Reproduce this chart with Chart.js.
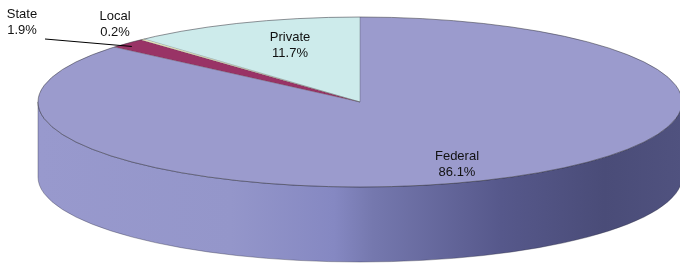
<!DOCTYPE html>
<html>
<head>
<meta charset="utf-8">
<script src="https://cdn.jsdelivr.net/npm/chart.js@4/dist/chart.umd.min.js"></script>
<style>
  html, body { margin: 0; padding: 0; background: #fff; }
  #wrap { width: 680px; height: 263px; }
</style>
</head>
<body>
<div id="wrap"><canvas id="pieChart" width="680" height="263"></canvas></div>
<script>
const categories = ["Federal", "State", "Local", "Private"];
const shares = [86.1, 1.9, 0.2, 11.7];
const sliceColors = ["#9b9bcd", "#993366", "#ffffcc", "#cdebeb"];

// 3D pie geometry (top ellipse and wall depth)
const pieCx = 360;
const pieCy = 102;
const pieRx = 322;
const pieRy = 85;
const pieDepth = 75;

// where a point on the unit pie lands on the tilted ellipse
function project(angle, frac) {
  return {
    x: pieCx + Math.cos(angle) * pieRx * frac,
    y: pieCy + Math.sin(angle) * pieRy * frac,
  };
}

const tiltPlugin = {
  id: "tilt",
  beforeDatasetsDraw(chart) {
    const ctx = chart.ctx;
    const arcs = chart.getDatasetMeta(0).data;

    // side wall: only the front half (angles 0..PI) is visible
    arcs.forEach((arc, i) => {
      let a0 = arc.startAngle;
      let a1 = arc.endAngle;
      // normalise to 0..2PI
      const shift = Math.floor(a0 / (2 * Math.PI)) * 2 * Math.PI;
      a0 -= shift;
      a1 -= shift;
      [[0, Math.PI], [2 * Math.PI, 3 * Math.PI]].forEach(([lo, hi]) => {
        const s = Math.max(a0, lo);
        const e = Math.min(a1, hi);
        if (e <= s) return;
        const grad = ctx.createLinearGradient(pieCx - pieRx, 0, pieCx + pieRx, 0);
        if (i === 0) {
          grad.addColorStop(0, "#9899cd");
          grad.addColorStop(0.3, "#9496ca");
          grad.addColorStop(0.46, "#8588c2");
          grad.addColorStop(0.52, "#7578ae");
          grad.addColorStop(0.72, "#56588b");
          grad.addColorStop(0.88, "#4a4c78");
          grad.addColorStop(1, "#50527f");
        } else {
          grad.addColorStop(0, sliceColors[i]);
          grad.addColorStop(1, "#333333");
        }
        ctx.save();
        ctx.beginPath();
        ctx.ellipse(pieCx, pieCy, pieRx, pieRy, 0, s, e, false);
        ctx.ellipse(pieCx, pieCy + pieDepth, pieRx, pieRy, 0, e, s, true);
        ctx.closePath();
        ctx.fillStyle = grad;
        ctx.fill();
        ctx.strokeStyle = "rgba(40,40,60,0.6)";
        ctx.lineWidth = 0.6;
        ctx.stroke();
        ctx.restore();
      });
    });

    // squash the flat pie into the top ellipse
    const a = arcs[0];
    const r = a.outerRadius;
    ctx.save();
    ctx.translate(pieCx, pieCy);
    ctx.scale(pieRx / r, pieRy / r);
    ctx.translate(-a.x, -a.y);
  },
  afterDatasetsDraw(chart) {
    const ctx = chart.ctx;
    ctx.restore();
    const arcs = chart.getDatasetMeta(0).data;

    // outlines of the top face
    ctx.save();
    ctx.strokeStyle = "rgba(50,50,60,0.75)";
    ctx.lineWidth = 0.7;
    ctx.beginPath();
    ctx.ellipse(pieCx, pieCy, pieRx, pieRy, 0, 0, 2 * Math.PI);
    ctx.stroke();
    ctx.strokeStyle = "rgba(60,60,70,0.45)";
    arcs.forEach((arc) => {
      const p = project(arc.startAngle, 1);
      ctx.beginPath();
      ctx.moveTo(pieCx, pieCy);
      ctx.lineTo(p.x, p.y);
      ctx.stroke();
    });
    ctx.restore();

    // labels
    ctx.save();
    ctx.font = "13px 'Liberation Sans', Arial, sans-serif";
    ctx.fillStyle = "#111";
    ctx.textAlign = "center";
    ctx.textBaseline = "middle";
    const spots = [
      { x: 457, y: 156 },
      { x: 22, y: 14 },
      { x: 115, y: 16 },
      { x: 290, y: 37 },
    ];
    arcs.forEach((arc, i) => {
      const s = spots[i];
      ctx.fillText(categories[i], s.x, s.y);
      ctx.fillText(shares[i].toFixed(1) + "%", s.x, s.y + 16);
    });
    // leader line for State
    const st = arcs[1];
    const tip = project((st.startAngle + st.endAngle) / 2, 0.98);
    ctx.strokeStyle = "#000";
    ctx.lineWidth = 1;
    ctx.beginPath();
    ctx.moveTo(45, 39);
    ctx.lineTo(tip.x, tip.y + 2);
    ctx.stroke();
    ctx.restore();
  },
};

window.onload = function () {
  const ctx = document.getElementById("pieChart").getContext("2d");
  new Chart(ctx, {
    type: "pie",
    data: {
      labels: categories,
      datasets: [
        {
          data: shares,
          backgroundColor: sliceColors,
          borderWidth: 0,
          hoverOffset: 0,
        },
      ],
    },
    options: {
      responsive: false,
      animation: false,
      layout: { padding: 0 },
      plugins: {
        legend: { display: false },
        tooltip: { enabled: false },
      },
    },
    plugins: [tiltPlugin],
  });
};
</script>
</body>
</html>
